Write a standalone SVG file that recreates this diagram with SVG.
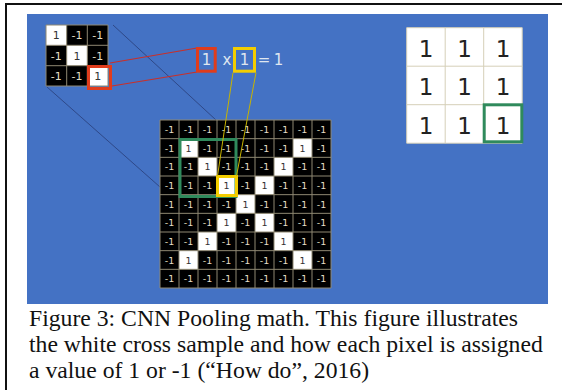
<svg xmlns="http://www.w3.org/2000/svg" width="562" height="390" viewBox="0 0 562 390">
<style>
.frame{stroke:#111;stroke-width:2;fill:none}
.cell{fill:#000}
.wc{fill:#fff}
.gl{stroke:#8f8872;stroke-width:1;fill:none}
.big text{font-family:"DejaVu Sans",sans-serif;font-size:9.5px;text-anchor:middle;fill:#e4dec6}
.small text{font-family:"DejaVu Sans",sans-serif;font-size:11px;text-anchor:middle;fill:#e4dec6}
.big text.o,.small text.o{fill:#333}
.res text{font-family:"DejaVu Sans",sans-serif;font-size:23px;text-anchor:middle;fill:#222}
.mid text{font-family:"DejaVu Sans",sans-serif;font-size:15px;text-anchor:middle;fill:#dfe6f0}
.cap{font-family:"Liberation Serif","Times New Roman",serif;font-size:23.7px;fill:#111}
.red{stroke:#e03c1c;stroke-width:3;fill:none}
.yel{stroke:#f3cd00;stroke-width:3;fill:none}
.grn{stroke:#2f8a5c;stroke-width:3;fill:none}
</style>
<rect x="0" y="0" width="562" height="390" fill="#fff"/>
<path class="frame" d="M5 4 H562 M6 3 V390"/>
<rect x="27" y="14" width="521" height="290" fill="#4472c4"/>

<g id="connectors">
<line x1="113" y1="25" x2="216" y2="120" stroke="#2a3f7a" stroke-width="1" opacity="0.8"/>
<line x1="46.7" y1="86.7" x2="160" y2="187" stroke="#2a3f7a" stroke-width="1" opacity="0.8"/>
<line x1="110" y1="63" x2="197" y2="48" stroke="#c8302a" stroke-width="1.2"/>
<line x1="112" y1="86" x2="197" y2="72" stroke="#c8302a" stroke-width="1.2"/>
</g>

<g id="filter" class="small">
<rect class="cell" x="46" y="25" width="62" height="61"/>
<rect class="wc" x="46" y="25" width="20.7" height="20.3"/>
<rect class="wc" x="66.7" y="45.3" width="20.6" height="20.4"/>
<rect class="wc" x="87.3" y="65.7" width="20.7" height="20.3"/>
<path class="gl" d="M46 25 H108 V86 H46 Z M66.7 25 V86 M87.3 25 V86 M46 45.3 H108 M46 65.7 H108"/>
<text class="o" x="56.3" y="39.2">1</text><text x="77" y="39.2">-1</text><text x="97.7" y="39.2">-1</text>
<text x="56.3" y="59.5">-1</text><text class="o" x="77" y="59.5">1</text><text x="97.7" y="59.5">-1</text>
<text x="56.3" y="79.8">-1</text><text x="77" y="79.8">-1</text><text class="o" x="97.7" y="79.8">1</text>
<rect class="red" x="88.5" y="66.5" width="22" height="22"/>
</g>

<g id="math" class="mid">
<rect class="red" x="197.5" y="48.5" width="17.7" height="22.7"/>
<text x="206.4" y="65">1</text>
<text x="227" y="65">x</text>
<rect class="yel" x="234.5" y="48.5" width="20" height="22.7"/>
<text x="244.5" y="65">1</text>
<text x="264" y="65">=</text>
<text x="278.5" y="65">1</text>
</g>

<g id="image" class="big">
<rect class="cell" x="160" y="120" width="171" height="168"/>
<rect class="wc" x="179" y="138.67" width="19" height="18.67"/>
<rect class="wc" x="293" y="138.67" width="19" height="18.67"/>
<rect class="wc" x="198" y="157.33" width="19" height="18.67"/>
<rect class="wc" x="274" y="157.33" width="19" height="18.67"/>
<rect class="wc" x="217" y="176" width="19" height="18.67"/>
<rect class="wc" x="255" y="176" width="19" height="18.67"/>
<rect class="wc" x="236" y="194.67" width="19" height="18.67"/>
<rect class="wc" x="217" y="213.33" width="19" height="18.67"/>
<rect class="wc" x="255" y="213.33" width="19" height="18.67"/>
<rect class="wc" x="198" y="232" width="19" height="18.67"/>
<rect class="wc" x="274" y="232" width="19" height="18.67"/>
<rect class="wc" x="179" y="250.67" width="19" height="18.67"/>
<rect class="wc" x="293" y="250.67" width="19" height="18.67"/>
<path class="gl" d="M160 120 H331 V288 H160 Z M179 120 V288 M198 120 V288 M217 120 V288 M236 120 V288 M255 120 V288 M274 120 V288 M293 120 V288 M312 120 V288 M160 138.67 H331 M160 157.33 H331 M160 176 H331 M160 194.67 H331 M160 213.33 H331 M160 232 H331 M160 250.67 H331 M160 269.33 H331"/>
<text x="169.5" y="132.8">-1</text><text x="188.5" y="132.8">-1</text><text x="207.5" y="132.8">-1</text><text x="226.5" y="132.8">-1</text><text x="245.5" y="132.8">-1</text><text x="264.5" y="132.8">-1</text><text x="283.5" y="132.8">-1</text><text x="302.5" y="132.8">-1</text><text x="321.5" y="132.8">-1</text>
<text x="169.5" y="151.5">-1</text><text class="o" x="188.5" y="151.5">1</text><text x="207.5" y="151.5">-1</text><text x="226.5" y="151.5">-1</text><text x="245.5" y="151.5">-1</text><text x="264.5" y="151.5">-1</text><text x="283.5" y="151.5">-1</text><text class="o" x="302.5" y="151.5">1</text><text x="321.5" y="151.5">-1</text>
<text x="169.5" y="170.2">-1</text><text x="188.5" y="170.2">-1</text><text class="o" x="207.5" y="170.2">1</text><text x="226.5" y="170.2">-1</text><text x="245.5" y="170.2">-1</text><text x="264.5" y="170.2">-1</text><text class="o" x="283.5" y="170.2">1</text><text x="302.5" y="170.2">-1</text><text x="321.5" y="170.2">-1</text>
<text x="169.5" y="188.8">-1</text><text x="188.5" y="188.8">-1</text><text x="207.5" y="188.8">-1</text><text class="o" x="226.5" y="188.8">1</text><text x="245.5" y="188.8">-1</text><text class="o" x="264.5" y="188.8">1</text><text x="283.5" y="188.8">-1</text><text x="302.5" y="188.8">-1</text><text x="321.5" y="188.8">-1</text>
<text x="169.5" y="207.5">-1</text><text x="188.5" y="207.5">-1</text><text x="207.5" y="207.5">-1</text><text x="226.5" y="207.5">-1</text><text class="o" x="245.5" y="207.5">1</text><text x="264.5" y="207.5">-1</text><text x="283.5" y="207.5">-1</text><text x="302.5" y="207.5">-1</text><text x="321.5" y="207.5">-1</text>
<text x="169.5" y="226.2">-1</text><text x="188.5" y="226.2">-1</text><text x="207.5" y="226.2">-1</text><text class="o" x="226.5" y="226.2">1</text><text x="245.5" y="226.2">-1</text><text class="o" x="264.5" y="226.2">1</text><text x="283.5" y="226.2">-1</text><text x="302.5" y="226.2">-1</text><text x="321.5" y="226.2">-1</text>
<text x="169.5" y="244.8">-1</text><text x="188.5" y="244.8">-1</text><text class="o" x="207.5" y="244.8">1</text><text x="226.5" y="244.8">-1</text><text x="245.5" y="244.8">-1</text><text x="264.5" y="244.8">-1</text><text class="o" x="283.5" y="244.8">1</text><text x="302.5" y="244.8">-1</text><text x="321.5" y="244.8">-1</text>
<text x="169.5" y="263.5">-1</text><text class="o" x="188.5" y="263.5">1</text><text x="207.5" y="263.5">-1</text><text x="226.5" y="263.5">-1</text><text x="245.5" y="263.5">-1</text><text x="264.5" y="263.5">-1</text><text x="283.5" y="263.5">-1</text><text class="o" x="302.5" y="263.5">1</text><text x="321.5" y="263.5">-1</text>
<text x="169.5" y="282.2">-1</text><text x="188.5" y="282.2">-1</text><text x="207.5" y="282.2">-1</text><text x="226.5" y="282.2">-1</text><text x="245.5" y="282.2">-1</text><text x="264.5" y="282.2">-1</text><text x="283.5" y="282.2">-1</text><text x="302.5" y="282.2">-1</text><text x="321.5" y="282.2">-1</text>
<rect class="grn" x="180" y="139.5" width="56" height="57" stroke-width="2.5"/>
<rect class="yel" x="217.5" y="176.5" width="19" height="19"/>
</g>

<g id="yellow-links">
<line x1="233" y1="72.7" x2="217.5" y2="176" stroke="#c8b400" stroke-width="1"/>
<line x1="256" y1="72.7" x2="236.5" y2="176" stroke="#c8b400" stroke-width="1"/>
</g>

<g id="result" class="res">
<rect x="406.7" y="27.7" width="115.5" height="115.5" fill="#fff"/>
<path d="M406.7 27.7 H522.2 V143.2 H406.7 Z M445.2 27.7 V143.2 M483.7 27.7 V143.2 M406.7 66.2 H522.2 M406.7 104.7 H522.2" stroke="#d6cfb8" stroke-width="1" fill="none"/>
<text x="426" y="56.5">1</text><text x="464.5" y="56.5">1</text><text x="503" y="56.5">1</text>
<text x="426" y="95">1</text><text x="464.5" y="95">1</text><text x="503" y="95">1</text>
<text x="426" y="133.5">1</text><text x="464.5" y="133.5">1</text><text x="503" y="133.5">1</text>
<rect class="grn" x="484.2" y="104.8" width="37.6" height="37"/>
</g>

<g id="caption">
<text class="cap" x="29" y="326">Figure 3: CNN Pooling math. This figure illustrates</text>
<text class="cap" x="29" y="352">the white cross sample and how each pixel is assigned</text>
<text class="cap" x="29" y="378">a value of 1 or -1 (“How do”, 2016)</text>
</g>
</svg>
